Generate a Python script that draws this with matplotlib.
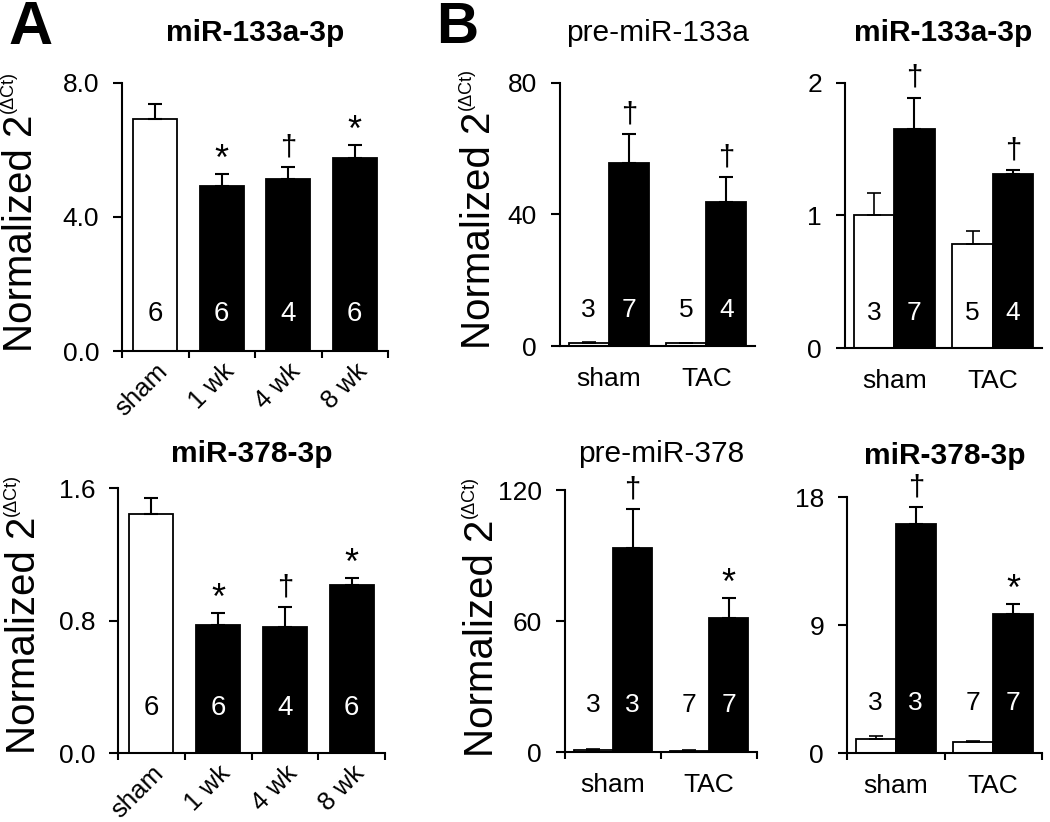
import numpy as np
import matplotlib
matplotlib.use("Agg")
import matplotlib.pyplot as plt
from matplotlib.transforms import blended_transform_factory

plt.rcParams['font.family'] = ['Liberation Sans', 'DejaVu Sans']

# ---- data ----
# panel A: time course after TAC
a_labels = ['sham', '1 wk', '4 wk', '8 wk']
a133_mean = [6.93, 4.93, 5.13, 5.76]
a133_sem = [0.44, 0.35, 0.36, 0.39]
a133_sig = ['', '*', '†', '*']
a133_n = ['6', '6', '4', '6']

a378_mean = [1.443, 0.773, 0.76, 1.014]
a378_sem = [0.097, 0.072, 0.12, 0.043]
a378_sig = ['', '*', '†', '*']
a378_n = ['6', '6', '4', '6']

# panel B: sham / TAC, white = first series, black = second series
b_groups = ['sham', 'TAC']
pre133_white = [1.0, 0.8]
pre133_white_sem = [0.3, 0.2]
pre133_black = [55.7, 43.8]
pre133_black_sem = [8.8, 7.6]
pre133_sig = ['†', '†']
pre133_n = [['3', '7'], ['5', '4']]

m133_white = [1.0, 0.785]
m133_white_sem = [0.17, 0.10]
m133_black = [1.65, 1.31]
m133_black_sem = [0.24, 0.03]
m133_sig = ['†', '†']
m133_n = [['3', '7'], ['5', '4']]

pre378_white = [1.0, 0.5]
pre378_white_sem = [0.3, 0.2]
pre378_black = [93.4, 61.4]
pre378_black_sem = [17.9, 9.1]
pre378_sig = ['†', '*']
pre378_n = [['3', '3'], ['7', '7']]

m378_white = [0.98, 0.77]
m378_white_sem = [0.22, 0.05]
m378_black = [16.1, 9.77]
m378_black_sem = [1.2, 0.71]
m378_sig = ['†', '*']
m378_n = [['3', '3'], ['7', '7']]

W, H = 1050, 822
fig = plt.figure(figsize=(W / 100, H / 100), dpi=100)

LW = 1.5
TICK_FS = 19


def px_axes(x0, ytop, x1, ybot):
    ax = fig.add_axes([x0 / W, 1 - ybot / H, (x1 - x0) / W, (ybot - ytop) / H])
    ax.spines['top'].set_visible(False)
    ax.spines['right'].set_visible(False)
    ax.spines['left'].set_linewidth(LW)
    ax.spines['bottom'].set_linewidth(LW)
    ax.tick_params(axis='y', direction='out', length=6.5, width=LW, pad=10, labelsize=TICK_FS)
    return ax, x0, x1


def mark(ax, x, top, sym):
    if sym == '*':
        ax.annotate(sym, xy=(x, top), xytext=(0, 3), textcoords='offset points',
                    ha='center', va='baseline', fontsize=26)
    elif sym:
        ax.annotate(sym, xy=(x, top), xytext=(0, 8.5), textcoords='offset points',
                    ha='center', va='baseline', fontsize=21)


def ylab(ax, x0, x1, px, yfrac):
    ax.set_ylabel('Normalized 2', fontsize=29)
    ax.yaxis.set_label_coords((px - x0) / (x1 - x0), yfrac)
    ax.annotate('(\u0394Ct)', xy=(0, 1), xycoords=ax.yaxis.label, xytext=(11, 1),
                textcoords='offset points', rotation=90, ha='right', va='bottom',
                fontsize=13)


def panel_a(ax, mean, sem, sig, ns, yticks, yfmt, nfrac, title, tpad):
    x = np.arange(len(mean))
    colors = ['white'] + ['black'] * (len(mean) - 1)
    ax.bar(x, mean, width=0.66, color=colors, edgecolor='black', linewidth=1.3, zorder=2)
    ax.errorbar(x, mean, yerr=[np.zeros(len(mean)), sem], fmt='none', ecolor='black',
                elinewidth=LW, capsize=5, capthick=LW, zorder=3)
    tr = blended_transform_factory(ax.transData, ax.transAxes)
    for xi, m, s, g, n, c in zip(x, mean, sem, sig, ns, colors):
        mark(ax, xi, m + s, g)
        ax.text(xi, nfrac, n, transform=tr, ha='center', va='baseline', fontsize=20,
                color='black' if c == 'white' else 'white', zorder=4)
    ax.set_xlim(-0.5, len(mean) - 0.5)
    ax.set_ylim(yticks[0], yticks[-1])
    ax.set_yticks(yticks)
    ax.set_yticklabels([yfmt.format(v) for v in yticks])
    ax.set_xticks(np.arange(len(mean) + 1) - 0.5)
    ax.set_xticklabels([])
    ax.tick_params(axis='x', which='major', direction='out', length=5, width=LW)
    ax.set_xticks(x, a_labels, minor=True)
    ax.tick_params(axis='x', which='minor', length=0, pad=6, labelsize=18.5)
    for t in ax.get_xticklabels(minor=True):
        t.set_rotation(45)
        t.set_ha('right')
        t.set_va('top')
        t.set_rotation_mode('anchor')
    ax.set_title(title, fontsize=21.5, fontweight='bold', pad=tpad)


def panel_b(ax, white, wsem, black, bsem, sig, ns, yticks, nfrac, title, bold, xticks, tpad):
    g = np.arange(len(white))
    off, w = 0.205, 0.41
    ax.bar(g - off, white, width=w, color='white', edgecolor='black', linewidth=1.3, zorder=2)
    ax.bar(g + off, black, width=w, color='black', edgecolor='black', linewidth=1.3, zorder=2)
    ax.errorbar(g - off, white, yerr=[np.zeros(len(white)), wsem], fmt='none', ecolor='black',
                elinewidth=1.2, capsize=5, capthick=1.2, zorder=3)
    ax.errorbar(g + off, black, yerr=[np.zeros(len(black)), bsem], fmt='none', ecolor='black',
                elinewidth=LW, capsize=5, capthick=LW, zorder=3)
    tr = blended_transform_factory(ax.transData, ax.transAxes)
    for gi in g:
        mark(ax, gi + off, black[gi] + bsem[gi], sig[gi])
        ax.text(gi - off, nfrac, ns[gi][0], transform=tr, ha='center', va='baseline',
                fontsize=19, color='black', zorder=4)
        ax.text(gi + off, nfrac, ns[gi][1], transform=tr, ha='center', va='baseline',
                fontsize=19, color='white', zorder=4)
    ax.set_xlim(-0.5, len(white) - 0.5)
    ax.set_ylim(yticks[0], yticks[-1])
    ax.set_yticks(yticks)
    ax.set_yticklabels([str(v) for v in yticks])
    if xticks:
        ax.set_xticks(np.arange(len(white) + 1) - 0.5)
        ax.set_xticklabels([])
        ax.tick_params(axis='x', which='major', direction='out', length=5, width=LW)
        pad = 15
    else:
        ax.set_xticks([])
        pad = 15
    ax.set_xticks(g, b_groups, minor=True)
    ax.tick_params(axis='x', which='minor', length=0, pad=pad, labelsize=TICK_FS)
    ax.set_title(title, fontsize=21.5, fontweight='bold' if bold else 'normal', pad=tpad)


# panel A
ax, x0, x1 = px_axes(122, 83, 388, 351)
panel_a(ax, a133_mean, a133_sem, a133_sig, a133_n, [0, 4, 8], '{:.1f}', 0.112,
        'miR-133a-3p', 30)
ylab(ax, x0, x1, 40, 0.44)

ax, x0, x1 = px_axes(118, 488, 385, 753)
panel_a(ax, a378_mean, a378_sem, a378_sig, a378_n, [0, 0.8, 1.6], '{:.1f}', 0.143,
        'miR-378-3p', 19)
ylab(ax, x0, x1, 43, 0.443)

# panel B
ax, x0, x1 = px_axes(560, 83, 755, 346)
panel_b(ax, pre133_white, pre133_white_sem, pre133_black, pre133_black_sem, pre133_sig,
        pre133_n, [0, 40, 80], 0.11, 'pre-miR-133a', False, False, 30)
ylab(ax, x0, x1, 498, 0.44)

ax, x0, x1 = px_axes(845, 83, 1042, 348)
panel_b(ax, m133_white, m133_white_sem, m133_black, m133_black_sem, m133_sig,
        m133_n, [0, 1, 2], 0.106, 'miR-133a-3p', True, False, 30)

ax, x0, x1 = px_axes(565, 490, 757, 752)
panel_b(ax, pre378_white, pre378_white_sem, pre378_black, pre378_black_sem, pre378_sig,
        pre378_n, [0, 60, 120], 0.153, 'pre-miR-378', False, True, 20)
ylab(ax, x0, x1, 501, 0.435)

ax, x0, x1 = px_axes(847, 497, 1042, 753)
panel_b(ax, m378_white, m378_white_sem, m378_black, m378_black_sem, m378_sig,
        m378_n, [0, 9, 18], 0.168, 'miR-378-3p', True, True, 24)

fig.text(8 / W, 1 - 0 / H, 'A', fontsize=44, fontweight='bold', ha='left', va='top')
fig.text(436 / W, 1 - 1 / H, 'B', fontsize=42, fontweight='bold', ha='left', va='top')

fig.savefig('out.png', dpi=100)
